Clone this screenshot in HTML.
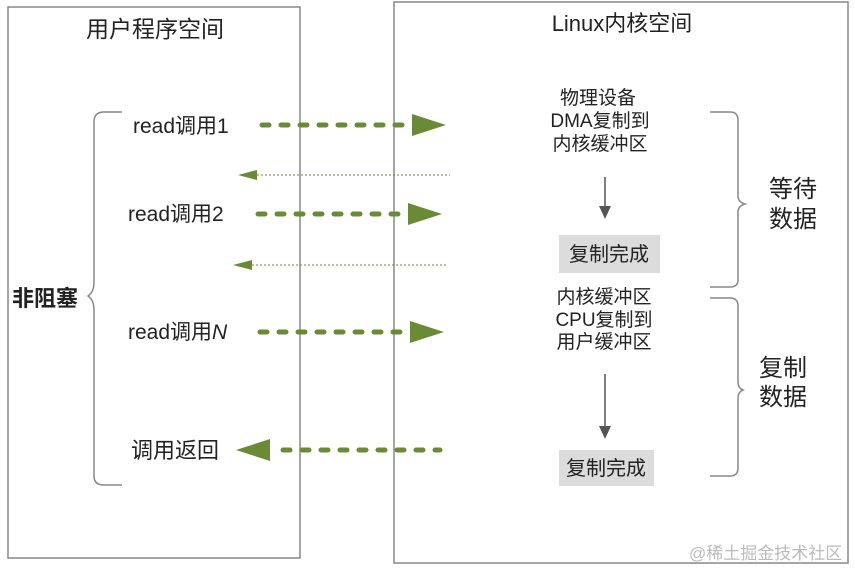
<!DOCTYPE html>
<html><head><meta charset="utf-8"><style>
body{margin:0;background:#fff;}
text{font-family:"Liberation Sans","Noto Sans CJK SC",sans-serif;fill:#222;}
</style></head><body>
<svg width="855" height="569" viewBox="0 0 855 569" xmlns="http://www.w3.org/2000/svg">
<rect x="8" y="7" width="292" height="551" fill="none" stroke="#888" stroke-width="1.5"/>
<rect x="394" y="2" width="454" height="561" fill="none" stroke="#888" stroke-width="1.5"/>
<text x="155" y="37" font-size="23" text-anchor="middle">用户程序空间</text>
<text x="622" y="31" font-size="22" text-anchor="middle">Linux内核空间</text>

<path d="M122 112 H104 Q94 112 94 122 V282 Q94 292 88 296 Q94 300 94 310 V476 Q94 485 104 485 H122" fill="none" stroke="#888" stroke-width="1.5"/>
<text x="12" y="306" font-size="22" font-weight="bold">非阻塞</text>

<text x="133" y="133" font-size="21">read调用1</text>
<text x="128" y="221" font-size="21">read调用2</text>
<text x="128" y="339" font-size="21">read调用<tspan font-style="italic">N</tspan></text>
<text x="131" y="458" font-size="22">调用返回</text>

<g stroke="#6b8a35" stroke-width="5" stroke-linecap="round" stroke-dasharray="7 12" fill="none">
<line x1="262" y1="125" x2="405" y2="125"/>
<line x1="258" y1="214" x2="402" y2="214"/>
<line x1="260" y1="332" x2="405" y2="332"/>
<line x1="283" y1="450" x2="440" y2="450"/>
</g>
<g fill="#6b8a35">
<polygon points="412,114 446,125 412,136"/>
<polygon points="408,203 442,214 408,225"/>
<polygon points="410,321 444,332 410,343"/>
<polygon points="270,439 236,450 270,461"/>
<polygon points="257,170 238,175 257,180"/>
<polygon points="252,260 233,265 252,270"/>
</g>
<g stroke="#6b8a35" stroke-width="1" stroke-dasharray="2 2">
<line x1="257" y1="175" x2="450" y2="175"/>
<line x1="252" y1="265" x2="446" y2="265"/>
</g>

<g font-size="19" text-anchor="middle">
<text x="598" y="104">物理设备</text>
<text x="600" y="127">DMA复制到</text>
<text x="600" y="150">内核缓冲区</text>
<text x="604" y="303">内核缓冲区</text>
<text x="604" y="326">CPU复制到</text>
<text x="604" y="348">用户缓冲区</text>
</g>
<line x1="605" y1="177" x2="605" y2="208" stroke="#555" stroke-width="1.5"/>
<polygon points="599,206 611,206 605,219" fill="#555"/>
<line x1="605" y1="374" x2="605" y2="428" stroke="#555" stroke-width="1.5"/>
<polygon points="599,426 611,426 605,439" fill="#555"/>
<rect x="559" y="235" width="101" height="38" fill="#dcdcdc"/>
<text x="609" y="261" font-size="20" text-anchor="middle">复制完成</text>
<rect x="559" y="450" width="95" height="36" fill="#dcdcdc"/>
<text x="606" y="475" font-size="20" text-anchor="middle">复制完成</text>

<path d="M710 112 H730 Q738 112 738 120 V196 Q738 202 745 204 Q738 206 738 212 V280 Q738 287 730 287 H710" fill="none" stroke="#888" stroke-width="1.5"/>
<path d="M710 298 H730 Q738 298 738 306 V382 Q738 388 743 390 Q738 392 738 398 V468 Q738 476 730 476 H710" fill="none" stroke="#888" stroke-width="1.5"/>
<text x="769" y="197" font-size="24">等待</text>
<text x="769" y="227" font-size="24">数据</text>
<text x="759" y="376" font-size="24">复制</text>
<text x="759" y="405" font-size="24">数据</text>

<text x="689" y="559" font-size="17" style="fill:#bbb">@稀土掘金技术社区</text>
</svg>
</body></html>
